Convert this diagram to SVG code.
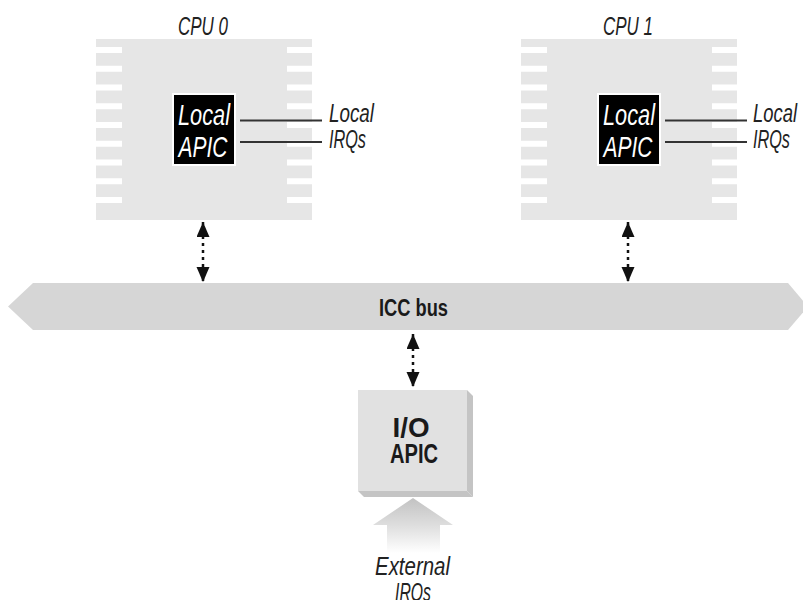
<svg xmlns="http://www.w3.org/2000/svg" xmlns:xlink="http://www.w3.org/1999/xlink" width="803" height="600" viewBox="0 0 803 600">
  <style>
    .chip { fill: #e6e6e6; }
    .gap { fill: #ffffff; }
    .apic { fill: #000000; stroke: #ffffff; stroke-width: 2; }
    .apictxt { font-family: "Liberation Sans", Arial, sans-serif; font-style: italic; font-size: 30px; fill: #ffffff; text-anchor: middle; }
    .lbl { font-family: "Liberation Sans", Arial, sans-serif; font-style: italic; font-size: 26px; fill: #222222; }
    .irqline { stroke: #333333; stroke-width: 2; fill: none; }
    .bold { font-family: "Liberation Sans", Arial, sans-serif; font-weight: bold; fill: #1a1a1a; text-anchor: middle; }
    .conn { stroke: #111111; stroke-width: 2.5; stroke-dasharray: 3 4; fill: none; marker-start: url(#ah); marker-end: url(#ah); }
  </style>
  <defs>
    <marker id="ah" markerUnits="userSpaceOnUse" markerWidth="16" markerHeight="14" refX="15" refY="6.5" orient="auto-start-reverse" viewBox="0 0 16 14">
      <path d="M0,0 L15,6.5 L0,13 z" fill="#111111"/>
    </marker>
    <linearGradient id="extgrad" gradientUnits="userSpaceOnUse" x1="0" y1="498" x2="0" y2="553">
      <stop offset="0" stop-color="#c2c2c2"/>
      <stop offset="0.5" stop-color="#dedede"/>
      <stop offset="1" stop-color="#ffffff"/>
    </linearGradient>
    <g id="chipbody">
      <rect class="chip" x="0" y="0" width="216" height="181"/>
      <g class="gap">
        <rect x="0" y="8" width="26" height="6"/>
        <rect x="0" y="26.75" width="26" height="6"/>
        <rect x="0" y="45.5" width="26" height="6"/>
        <rect x="0" y="64.25" width="26" height="6"/>
        <rect x="0" y="83" width="26" height="6"/>
        <rect x="0" y="101.75" width="26" height="6"/>
        <rect x="0" y="120.5" width="26" height="6"/>
        <rect x="0" y="139.25" width="26" height="6"/>
        <rect x="0" y="158" width="26" height="6"/>
        <rect x="191" y="8" width="25" height="6"/>
        <rect x="191" y="26.75" width="25" height="6"/>
        <rect x="191" y="45.5" width="25" height="6"/>
        <rect x="191" y="64.25" width="25" height="6"/>
        <rect x="191" y="83" width="25" height="6"/>
        <rect x="191" y="101.75" width="25" height="6"/>
        <rect x="191" y="120.5" width="25" height="6"/>
        <rect x="191" y="139.25" width="25" height="6"/>
        <rect x="191" y="158" width="25" height="6"/>
      </g>
    </g>
  </defs>

  <g id="cpu0">
    <text class="lbl" x="203" y="35" text-anchor="middle" font-size="24" textLength="50" lengthAdjust="spacingAndGlyphs">CPU 0</text>
    <use xlink:href="#chipbody" x="96" y="39"/>
    <rect class="apic" x="173" y="94" width="62" height="71"/>
    <text class="apictxt" x="204" y="125" textLength="52" lengthAdjust="spacingAndGlyphs">Local</text>
    <text class="apictxt" x="203" y="157" textLength="49" lengthAdjust="spacingAndGlyphs">APIC</text>
    <line class="irqline" x1="240" y1="120.5" x2="322" y2="120.5"/>
    <line class="irqline" x1="240" y1="142" x2="322" y2="142"/>
    <text class="lbl" x="329" y="122" textLength="45" lengthAdjust="spacingAndGlyphs">Local</text>
    <text class="lbl" x="329" y="148" textLength="37" lengthAdjust="spacingAndGlyphs">IRQs</text>
  </g>

  <g id="cpu1">
    <text class="lbl" x="628" y="35" text-anchor="middle" font-size="24" textLength="50" lengthAdjust="spacingAndGlyphs">CPU 1</text>
    <use xlink:href="#chipbody" x="521" y="39"/>
    <rect class="apic" x="598" y="94" width="62" height="71"/>
    <text class="apictxt" x="629" y="125" textLength="52" lengthAdjust="spacingAndGlyphs">Local</text>
    <text class="apictxt" x="628" y="157" textLength="49" lengthAdjust="spacingAndGlyphs">APIC</text>
    <line class="irqline" x1="665" y1="120.5" x2="747" y2="120.5"/>
    <line class="irqline" x1="665" y1="142" x2="747" y2="142"/>
    <text class="lbl" x="753" y="122" textLength="44" lengthAdjust="spacingAndGlyphs">Local</text>
    <text class="lbl" x="753" y="148" textLength="37" lengthAdjust="spacingAndGlyphs">IRQs</text>
  </g>

  <g id="icc-bus">
    <polygon points="8,306.5 33,283 788,283 808,306.5 788,330 33,330" fill="#d6d6d6"/>
    <text class="bold" x="413.5" y="316" font-size="23" textLength="69" lengthAdjust="spacingAndGlyphs">ICC bus</text>
  </g>

  <g id="io-apic">
    <polygon points="467,390 473,396 473,497 467,491" fill="#c4c4c4"/>
    <polygon points="358,491 467,491 473,497 364,497" fill="#c4c4c4"/>
    <rect x="358" y="390" width="109" height="101" fill="#e1e1e1"/>
    <text class="bold" x="411" y="437" font-size="27" textLength="37" lengthAdjust="spacingAndGlyphs">I/O</text>
    <text class="bold" x="414" y="463" font-size="27" textLength="48" lengthAdjust="spacingAndGlyphs">APIC</text>
  </g>

  <g id="external-irqs">
    <polygon points="413,498 453,525 440,525 440,556 387,556 387,525 373,525" fill="url(#extgrad)"/>
    <text class="lbl" x="412.5" y="575" text-anchor="middle" textLength="75" lengthAdjust="spacingAndGlyphs">External</text>
    <text class="lbl" x="413" y="601" text-anchor="middle" textLength="36" lengthAdjust="spacingAndGlyphs">IRQs</text>
  </g>

  <g id="connectors">
    <line class="conn" x1="203" y1="222" x2="203" y2="282"/>
    <line class="conn" x1="628" y1="222" x2="628" y2="282"/>
    <line class="conn" x1="413" y1="334" x2="413" y2="387"/>
  </g>
</svg>
